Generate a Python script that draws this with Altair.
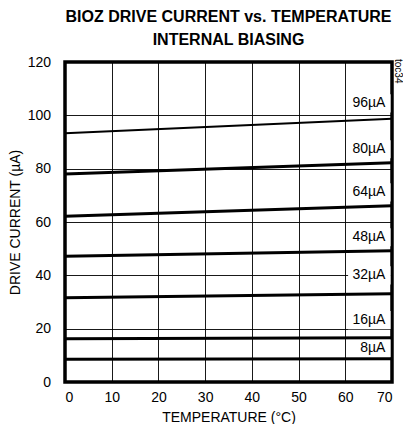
import altair as alt
import pandas as pd

# ---- data ----
series = ["96µA", "80µA", "64µA", "48µA", "32µA", "16µA", "8µA"]
temps = [0, 70]
current_at_0 = [93.3, 78.0, 62.2, 47.2, 31.6, 16.2, 8.5]
current_at_70 = [98.7, 82.2, 66.1, 49.2, 33.1, 16.6, 8.7]
label_y = [104.5, 87.3, 71.1, 54.3, 40.0, 23.2, 12.6]
x_ticks = [0, 10, 20, 30, 40, 50, 60, 70]
y_ticks = [0, 20, 40, 60, 80, 100, 120]

rows = []
for s, a, b in zip(series, current_at_0, current_at_70):
    rows.append({"series": s, "temp": temps[0], "current": a})
    rows.append({"series": s, "temp": temps[1], "current": b})
lines_df = pd.DataFrame(rows)
labels_df = pd.DataFrame({"series": series, "ly": label_y})

FONT = "Liberation Sans, Arial, sans-serif"

xscale = alt.Scale(domain=[0, 70], nice=False)
yscale = alt.Scale(domain=[0, 120], nice=False)

base_x = alt.X(
    "temp:Q", scale=xscale,
    axis=alt.Axis(values=x_ticks, title="TEMPERATURE (°C)", grid=True,
                  ticks=False, domain=False, labelPadding=8, titlePadding=6,
                  format="d"),
)
base_y = alt.Y(
    "current:Q", scale=yscale,
    axis=alt.Axis(values=y_ticks, title="DRIVE CURRENT (µA)", grid=True,
                  ticks=False, domain=False, labelPadding=14.5, titlePadding=5,
                  format="d"),
)

lines = alt.Chart(lines_df).mark_line(color="black").encode(
    x=base_x,
    y=base_y,
    detail="series:N",
    strokeWidth=alt.condition(alt.datum.series == "96µA", alt.value(2), alt.value(3)),
)

boxes = alt.Chart(labels_df).transform_calculate(
    y0="datum.ly - 3.4", y1="datum.ly + 3.4"
).mark_rect(color="white").encode(
    x=alt.datum(60.6, scale=xscale),
    x2=alt.datum(69.7),
    y=alt.Y("y0:Q", scale=yscale),
    y2="y1:Q",
)

texts = alt.Chart(labels_df).mark_text(
    align="right", baseline="middle", fontSize=14, font=FONT, color="black"
).encode(
    x=alt.datum(68.6, scale=xscale),
    y=alt.Y("ly:Q", scale=yscale),
    text="series:N",
)

note = alt.Chart(pd.DataFrame({"t": ["toc34"]})).mark_text(
    align="left", baseline="middle", angle=90, fontSize=10, font=FONT, color="black"
).encode(
    x=alt.value(333),
    y=alt.value(-3),
    text="t:N",
)

chart = alt.layer(boxes, lines, texts, note).properties(
    width=327,
    height=320,
    autosize="none",
    padding={"left": 57, "top": 54, "right": 11, "bottom": 42},
    title=alt.TitleParams(
        text=["BIOZ DRIVE CURRENT vs. TEMPERATURE", "INTERNAL BIASING"],
        fontSize=16, fontWeight="bold", font=FONT, color="black",
        anchor="middle", lineHeight=23, offset=7,
    ),
).configure_view(
    stroke="black", strokeWidth=3.5
).configure_axis(
    gridColor="black", gridWidth=1, gridOpacity=0.9,
    labelFont=FONT, labelFontSize=14, labelColor="black",
    titleFont=FONT, titleFontSize=14, titleFontWeight="normal", titleColor="black",
)

chart.save("out.html", embed_options={"renderer": "svg", "actions": False})
